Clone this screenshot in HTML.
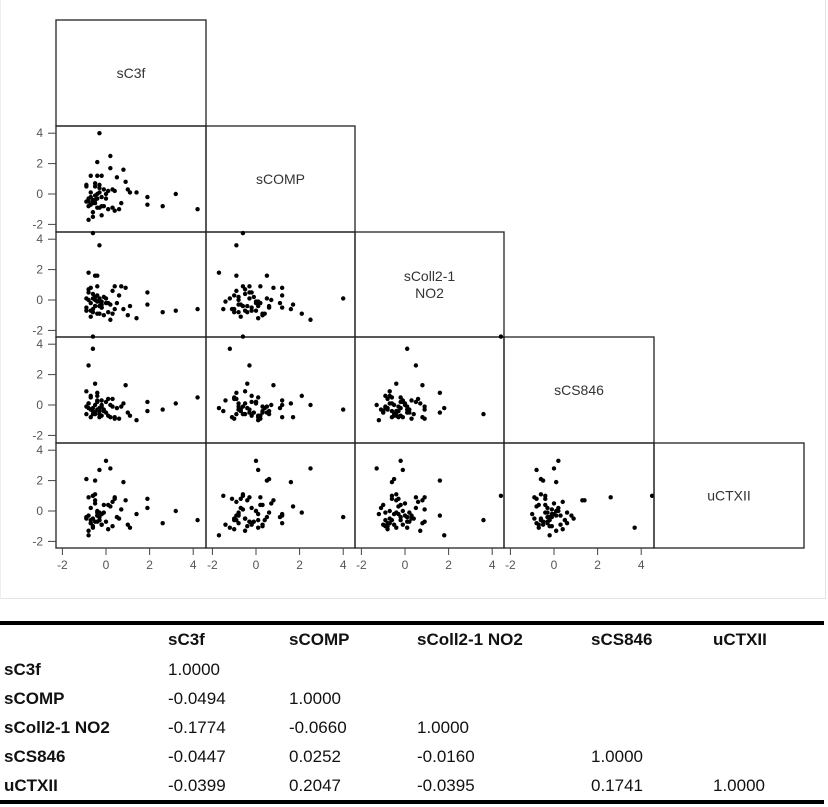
<!DOCTYPE html>
<html><head><meta charset="utf-8"><style>
body{margin:0;width:828px;height:807px;background:#fff;overflow:hidden;font-family:"Liberation Sans",sans-serif}
#plotwrap{position:absolute;left:0;top:0;width:824px;height:598px;border:1px solid #e4e4e4;border-top:none;border-left:1px solid #eee}
svg{position:absolute;left:0;top:0}
table{position:absolute;left:0;top:621px;width:824px;border-collapse:collapse;border-top:4px solid #000;border-bottom:4px solid #000;font-size:17px;color:#111;font-family:"Liberation Sans Narrow","Liberation Sans",sans-serif}
td{height:29px;padding:0 0 0 4px;vertical-align:middle}
td.h{font-weight:bold}
tr:first-child td{height:30px}
</style></head><body>
<div id="plotwrap"></div>
<svg id="chart" width="828" height="600"></svg>
<table>
<tr><td style="width:160px"></td><td class="h" style="width:117px">sC3f</td><td class="h" style="width:124px">sCOMP</td><td class="h" style="width:170px">sColl2-1 NO2</td><td class="h" style="width:118px">sCS846</td><td class="h">uCTXII</td></tr>
<tr><td class="h">sC3f</td><td>1.0000</td><td></td><td></td><td></td><td></td></tr>
<tr><td class="h">sCOMP</td><td>-0.0494</td><td>1.0000</td><td></td><td></td><td></td></tr>
<tr><td class="h">sColl2-1 NO2</td><td>-0.1774</td><td>-0.0660</td><td>1.0000</td><td></td><td></td></tr>
<tr><td class="h">sCS846</td><td>-0.0447</td><td>0.0252</td><td>-0.0160</td><td>1.0000</td><td></td></tr>
<tr><td class="h">uCTXII</td><td>-0.0399</td><td>0.2047</td><td>-0.0395</td><td>0.1741</td><td>1.0000</td></tr>
</table>
<script>
const varNames=["sC3f","sCOMP","sColl2-1 NO2","sCS846","uCTXII"];
const sC3f=[-0.3,-0.6,-0.4,-0.8,-0.5,-0.2,-0.7,-0.9,-0.1,0.0,-0.6,-0.3,-0.5,0.2,0.4,-0.8,-0.4,-0.2,0.8,0.9,-0.7,-0.5,0.1,-0.3,-0.6,0.3,1.9,1.9,2.6,3.2,4.2,-0.9,-0.4,0.5,0.7,1.1,1.4,-0.2,-0.5,0.0,-0.8,-0.6,-0.3,0.2,-0.1,-0.7,-0.4,0.6,-0.5,-0.9,1.0,0.3,-0.2,-0.6,-0.8,0.1,-0.4,-0.3,0.4,-0.7];
const sCOMP=[4.0,-0.6,2.1,-0.3,0.5,-0.8,1.2,-0.5,0.3,0.0,-1.2,-0.9,-0.4,2.5,0.2,-1.7,1.2,-0.2,1.6,0.8,-0.7,-0.1,-1.0,0.1,-0.5,0.3,-0.7,-0.2,-0.8,0.0,-1.0,0.6,-0.9,1.1,-0.6,0.1,0.1,-1.4,0.7,-0.3,-0.5,-1.5,0.4,1.7,-0.8,-0.2,0.0,-1.0,-0.6,0.5,0.3,-0.9,1.2,-0.4,-0.8,0.2,-0.3,0.6,-1.1,0.1];
const sColl=[0.1,4.4,-0.9,0.5,1.6,-0.3,0.8,-0.7,-1.0,-0.2,0.1,3.6,-0.4,-1.3,0.9,1.8,0.3,-0.5,-0.6,0.8,-1.1,0.2,-0.8,-0.1,0.4,-0.9,-0.3,0.5,-0.8,-0.7,-0.6,-0.5,1.6,-0.2,0.9,-0.4,-1.2,-0.1,0.0,0.1,0.7,-0.6,-0.9,-0.3,0.2,-0.7,-0.1,0.3,-0.4,0.1,-1.0,0.6,-0.5,-0.8,0.0,-0.2,0.9,-0.4,-0.6,-0.2];
const sCS=[-0.3,4.5,0.6,2.6,-0.5,-0.1,-0.8,0.9,-0.4,0.2,3.7,-0.6,1.4,0.0,-0.9,-0.2,0.3,-0.7,0.1,1.3,-0.3,-0.5,0.4,-0.8,-0.6,-0.1,-0.4,0.2,-0.3,0.1,0.5,-0.6,0.8,-0.2,-0.1,-0.7,-1.0,0.3,0.0,-0.5,0.1,-0.4,-0.2,-0.8,-0.3,0.6,0.2,-0.9,-0.6,-0.1,-0.5,0.4,0.0,-0.2,0.1,-0.7,-0.3,-0.4,-0.8,0.5];
const uCTX=[-0.4,1.0,-0.1,0.9,2.0,-0.2,-0.8,-0.5,0.4,3.3,-1.1,-0.6,0.7,2.8,0.9,-1.6,-0.3,-0.9,1.9,0.7,0.2,-0.7,-1.2,2.7,-0.5,-1.0,0.8,0.2,-0.8,0.0,-0.6,2.1,-0.3,-0.4,0.1,-1.1,-0.2,-0.9,0.5,-0.7,-1.3,1.0,-0.6,0.3,-0.1,-0.8,0.0,-0.5,1.1,-0.4,-0.9,0.6,-0.2,-1.0,-0.3,0.4,-0.7,-0.1,0.8,-0.6];
const vars=[sC3f,sCOMP,sColl,sCS,uCTX];
const tickVals=[-2,0,2,4];
const colX=[56,206,355,504,654,804];
const rowY=[20,126,232,337,443,548];
const NS="http://www.w3.org/2000/svg";
const svg=document.getElementById("chart");
function mk(t,a){const e=document.createElementNS(NS,t);for(const k in a)e.setAttribute(k,a[k]);svg.appendChild(e);return e;}
function xs(c,v){return colX[c]+50+v*21.8;}
function ys(r,v){return rowY[r]+68-v*15.2;}
for(let r=0;r<5;r++){for(let c=0;c<=r;c++){
  const rc=mk("rect",{x:colX[c],y:rowY[r],width:colX[c+1]-colX[c],height:rowY[r+1]-rowY[r],fill:"none",stroke:"#222","stroke-width":1.3});
  
  
  if(r===c){
    const lines=varNames[r]==="sColl2-1 NO2"?["sColl2-1","NO2"]:[varNames[r]];
    lines.forEach((ln,i)=>{
      const t=mk("text",{x:(colX[c]+colX[c+1])/2,y:(rowY[r]+rowY[r+1])/2+5+(i-(lines.length-1)/2)*17,"text-anchor":"middle","font-size":14,fill:"#333","font-family":"Liberation Sans, sans-serif"});
      t.textContent=ln;
      
      
    });
  } else {
    const xv=vars[c],yv=vars[r];
    for(let i=0;i<xv.length;i++){
      const p=mk("circle",{cx:xs(c,xv[i]),cy:ys(r,yv[i]),r:2.2,fill:"#000"});
      
      
    }
  }
}}
for(let r=1;r<5;r++){tickVals.forEach(v=>{
  const y=ys(r,v);
  mk("line",{x1:48,x2:56,y1:y,y2:y,stroke:"#444","stroke-width":1});
  const t=mk("text",{x:43,y:y+4,"text-anchor":"end","font-size":12,fill:"#555"});
  t.textContent=v;
  
  
});}
for(let c=0;c<4;c++){tickVals.forEach(v=>{
  const x=xs(c,v);
  mk("line",{x1:x,x2:x,y1:548,y2:555,stroke:"#444","stroke-width":1});
  const t=mk("text",{x:x,y:569,"text-anchor":"middle","font-size":12,fill:"#555"});
  t.textContent=v;
  
  
});}
</script>
</body></html>
